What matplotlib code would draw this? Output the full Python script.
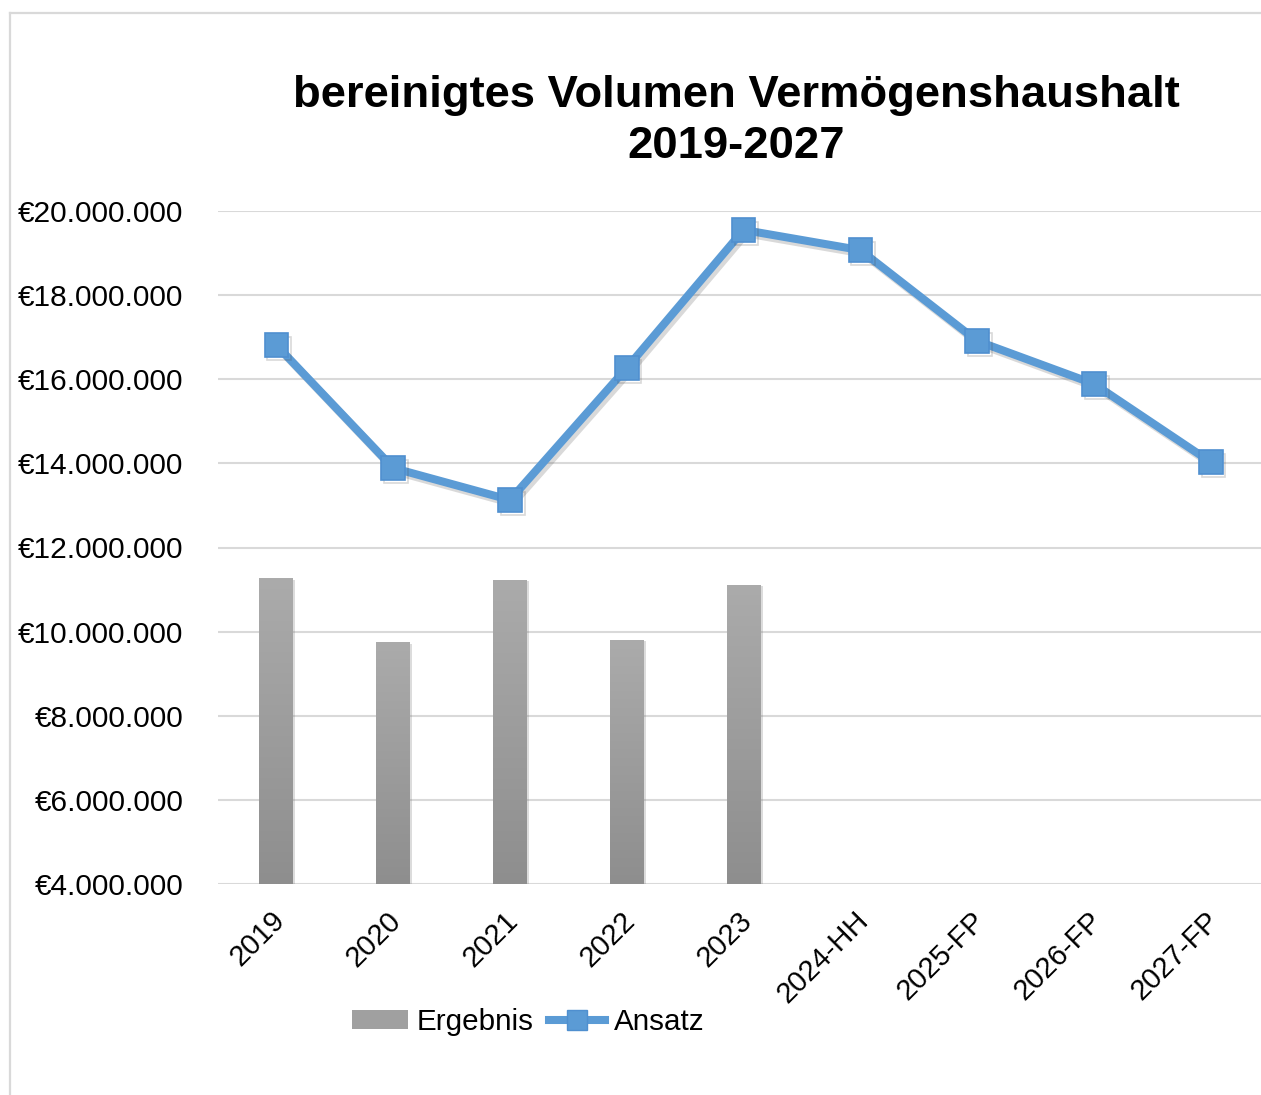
import matplotlib
matplotlib.use("Agg")
import matplotlib.pyplot as plt
import matplotlib.patheffects as pe
import matplotlib.transforms as mtransforms
from matplotlib.patches import Rectangle
from matplotlib.lines import Line2D
from matplotlib.ticker import FuncFormatter
from matplotlib.colors import LinearSegmentedColormap
import numpy as np

categories = ["2019", "2020", "2021", "2022", "2023", "2024-HH", "2025-FP", "2026-FP", "2027-FP"]
ergebnis = [11.27e6, 9.75e6, 11.23e6, 9.80e6, 11.11e6]
ansatz = [16.81e6, 13.89e6, 13.13e6, 16.27e6, 19.55e6, 19.07e6, 16.91e6, 15.89e6, 14.03e6]
y_ticks = [4e6, 6e6, 8e6, 10e6, 12e6, 14e6, 16e6, 18e6, 20e6]
title = "bereinigtes Volumen Vermögenshaushalt\n2019-2027"

plt.rcParams['font.family'] = ['Liberation Sans', 'DejaVu Sans']

W, H = 1261, 1095
fig = plt.figure(figsize=(W / 100, H / 100), dpi=100)

# outer chart border (left and top only visible)
fig.lines.append(Line2D([9.5 / W, 9.5 / W], [0, 1 - 12.5 / H], transform=fig.transFigure,
                        color="#d9d9d9", linewidth=1.6, zorder=0))
fig.lines.append(Line2D([9.5 / W, 1], [1 - 12.5 / H, 1 - 12.5 / H], transform=fig.transFigure,
                        color="#d9d9d9", linewidth=1.6, zorder=0))

ax = fig.add_axes([218 / W, 1 - 884 / H, (1261 - 218) / W, (884 - 211) / H])

for s in ax.spines.values():
    s.set_visible(False)
ax.set_yticks(y_ticks)
ax.yaxis.grid(True, color="#d9d9d9", linewidth=1.5)
ax.set_axisbelow(True)
ax.tick_params(axis="both", length=0)
ax.tick_params(axis="y", pad=25, labelsize=21.5)
ax.yaxis.set_major_formatter(FuncFormatter(lambda v, p: "€" + f"{v:,.0f}".replace(",", ".")))

x = np.arange(len(categories))
ax.set_xticks(x)
ax.set_xticklabels(categories, rotation=45, ha="right", va="top", rotation_mode="anchor")
ax.tick_params(axis="x", pad=16, labelsize=21)
offset = mtransforms.ScaledTranslation(-6 / 100, 0, fig.dpi_scale_trans)
for lbl in ax.get_xticklabels():
    lbl.set_transform(lbl.get_transform() + offset)

# bars with vertical gradient
xb = np.arange(len(ergebnis))
bars = ax.bar(xb, [v - 4e6 for v in ergebnis], bottom=4e6, width=0.29, color="#9e9e9e",
              zorder=2, label="Ergebnis",
              path_effects=[pe.SimplePatchShadow(offset=(1.5, -1), shadow_rgbFace="#777777", alpha=0.25), pe.Normal()])
grad = np.linspace(0, 1, 256).reshape(-1, 1)
cmap = LinearSegmentedColormap.from_list("g", ["#8e8e8e", "#ababab"])
for b in bars:
    x0, y0 = b.get_x(), b.get_y()
    im = ax.imshow(grad, cmap=cmap, aspect="auto", origin="lower",
                   extent=[x0, x0 + b.get_width(), y0, y0 + b.get_height()], zorder=2.1)
    im.set_clip_path(b)
ax.set_xlim(-0.5, 8.43)
ax.set_ylim(4e6, 20e6)

ax.plot(x, ansatz, color="#5b9bd5", linewidth=5.8, marker="s", markersize=17,
        markerfacecolor="#5b9bd5", markeredgecolor="#4f8fcf", markeredgewidth=1.2,
        zorder=4, clip_on=False, label="Ansatz",
        path_effects=[pe.SimpleLineShadow(offset=(2, -2.5), shadow_color="#444444", alpha=0.2), pe.Normal()])

fig.text(736 / W, 1 - 121 / H, title, ha="center", va="center", fontsize=32.7,
         fontweight="bold", linespacing=1.3)

handles = [Rectangle((0, 0), 1, 1, facecolor="#a0a0a0"),
           Line2D([], [], color="#5b9bd5", linewidth=5.8, marker="s", markersize=15,
                  markerfacecolor="#5b9bd5", markeredgecolor="#4f8fcf")]
fig.legend(handles, ["Ergebnis", "Ansatz"], loc="center", bbox_to_anchor=(528 / W, 1 - 1022 / H),
           ncol=2, frameon=False, fontsize=21.3, handlelength=1.9, handletextpad=0.3,
           columnspacing=0.5, handleheight=0.6)

fig.savefig("out.png", dpi=100)
